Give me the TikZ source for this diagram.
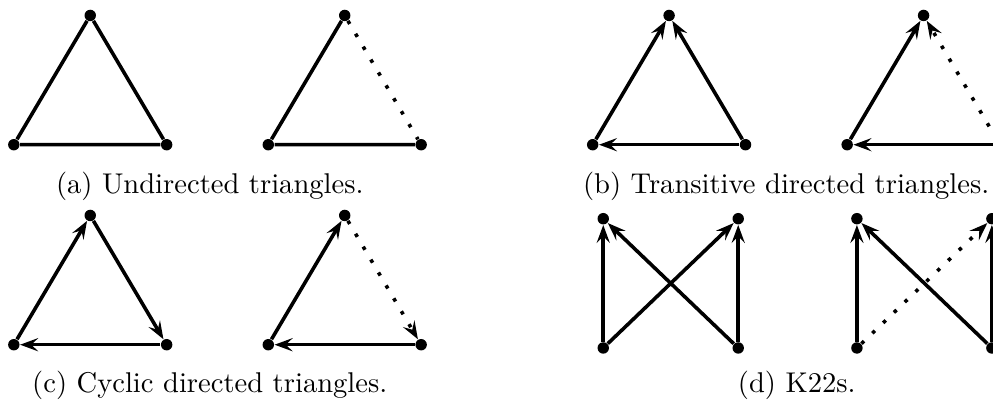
\documentclass[tikz,border=0pt]{standalone}
\usepackage{tikz}
\usetikzlibrary{arrows.meta}
\tikzset{
  vtx/.style={circle, fill, inner sep=0pt, minimum size=4pt},
  edge/.style={line width=1.25pt},
  diredge/.style={line width=1.25pt, -{Stealth[length=6.3pt, width=4.6pt, inset=2.4pt]}},
  dotedge/.style={edge, loosely dotted},
  dotdiredge/.style={diredge, loosely dotted},
  subcap/.style={anchor=base, inner sep=0pt}
}
\begin{document}
\begin{tikzpicture}[x=1cm,y=1cm]
  \useasboundingbox (0,0) rectangle (12.214,-4.957);
  % triangles
  \foreach \p/\x/\y in {a1/0.17/-1.78, a2/3.30/-1.78, b1/7.29/-1.78, b2/10.42/-1.78, c1/0.17/-4.24, c2/3.30/-4.24} {
    \node[vtx] (\p l) at (\x,\y) {};
    \node[vtx] (\p t) at (\x+0.94,\y+1.59) {};
    \node[vtx] (\p r) at (\x+1.88,\y) {};
  }
  % K22s
  \foreach \p/\x in {d1/7.42, d2/10.54} {
    \node[vtx] (\p bl) at (\x,-4.28) {};
    \node[vtx] (\p br) at (\x+1.66,-4.28) {};
    \node[vtx] (\p tl) at (\x,-2.69) {};
    \node[vtx] (\p tr) at (\x+1.66,-2.69) {};
  }
  % (a)
  \draw[edge] (a1l) -- (a1t) -- (a1r) -- (a1l);
  \draw[edge] (a2t) -- (a2l) -- (a2r);
  \draw[dotedge] (a2t) -- (a2r);
  % (b)
  \draw[diredge] (b1l) -- (b1t);
  \draw[diredge] (b1r) -- (b1t);
  \draw[diredge] (b1r) -- (b1l);
  \draw[diredge] (b2l) -- (b2t);
  \draw[dotdiredge] (b2r) -- (b2t);
  \draw[diredge] (b2r) -- (b2l);
  % (c)
  \draw[diredge] (c1l) -- (c1t);
  \draw[diredge] (c1t) -- (c1r);
  \draw[diredge] (c1r) -- (c1l);
  \draw[diredge] (c2l) -- (c2t);
  \draw[dotdiredge] (c2t) -- (c2r);
  \draw[diredge] (c2r) -- (c2l);
  % (d)
  \draw[diredge] (d1bl) -- (d1tl);
  \draw[diredge] (d1br) -- (d1tl);
  \draw[diredge] (d1bl) -- (d1tr);
  \draw[diredge] (d1br) -- (d1tr);
  \draw[diredge] (d2bl) -- (d2tl);
  \draw[diredge] (d2br) -- (d2tl);
  \draw[dotdiredge] (d2bl) -- (d2tr);
  \draw[diredge] (d2br) -- (d2tr);
  % captions
  \node[subcap] (capa) at (2.58,-2.374) {(a) Undirected triangles.};
  \node[subcap] (capb) at (9.67,-2.374) {(b) Transitive directed triangles.};
  \node[subcap] (capc) at (2.58,-4.83) {(c) Cyclic directed triangles.};
  \node[subcap] (capd) at (9.80,-4.83) {(d) K22s.};
\end{tikzpicture}
\end{document}
